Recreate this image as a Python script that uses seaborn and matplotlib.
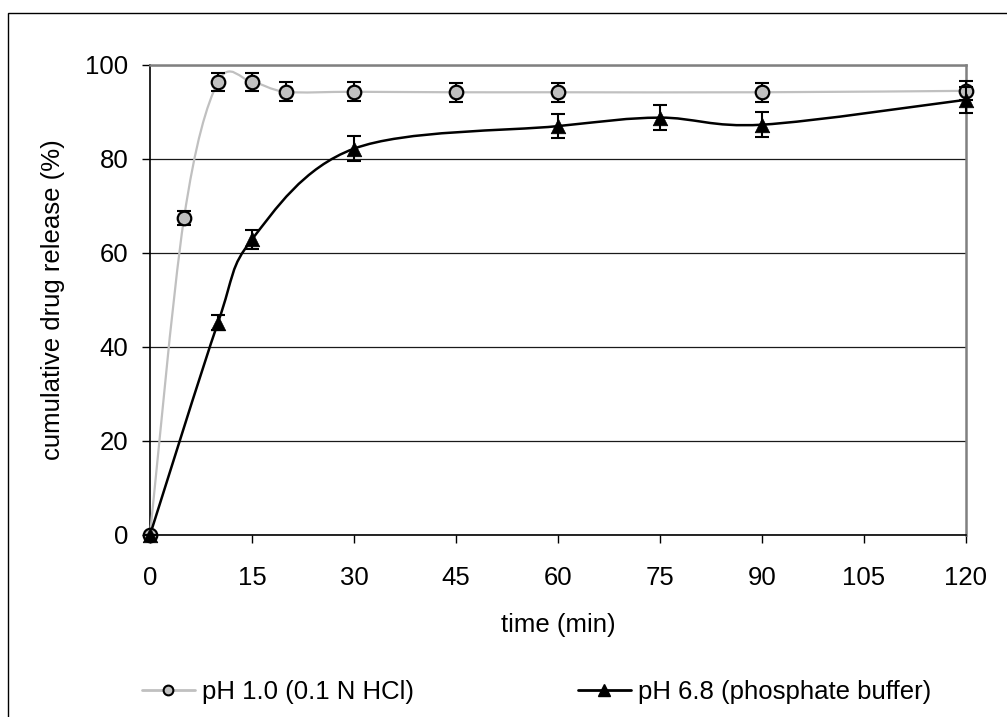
import numpy as np
import pandas as pd
import seaborn as sns
import matplotlib
matplotlib.use("Agg")
import matplotlib.pyplot as plt
from matplotlib.path import Path
from matplotlib.patches import PathPatch, Rectangle
from matplotlib.lines import Line2D

# ---- data ----
time_ph1 = [0, 5, 10, 15, 20, 30, 45, 60, 90, 120]
release_ph1 = [0, 67.4, 96.4, 96.4, 94.3, 94.3, 94.2, 94.2, 94.2, 94.5]
err_ph1 = [0, 1.5, 2.0, 2.0, 2.0, 2.0, 2.0, 2.0, 2.0, 2.0]

time_ph68 = [0, 10, 15, 30, 60, 75, 90, 120]
release_ph68 = [0, 45.2, 62.9, 82.2, 87.0, 88.8, 87.3, 92.6]
err_ph68 = [0, 1.6, 2.0, 2.6, 2.6, 2.7, 2.6, 2.8]

label_ph1 = "pH 1.0 (0.1 N HCl)"
label_ph68 = "pH 6.8 (phosphate buffer)"
xticks = [0, 15, 30, 45, 60, 75, 90, 105, 120]
yticks = [0, 20, 40, 60, 80, 100]

sns.set_style("white")
plt.rcParams["font.family"] = ["Liberation Sans", "DejaVu Sans"]
for k in ["text.color", "axes.labelcolor", "xtick.color", "ytick.color"]:
    plt.rcParams[k] = "black"
FS = 18.5

fig = plt.figure(figsize=(10.07, 7.17), dpi=100)
ax = fig.add_axes([150/1007, 1-535/717, (966-150)/1007, (535-65)/717])


def smooth_path(xs, ys):
    """Excel-style smoothed line rendered as cubic Bezier segments."""
    pts = np.column_stack([xs, ys]).astype(float)
    n = len(pts)
    verts = [pts[0]]
    codes = [Path.MOVETO]
    for i in range(n - 1):
        p_prev = pts[i - 1] if i > 0 else pts[i]
        p0 = pts[i]
        p1 = pts[i + 1]
        p_next = pts[i + 2] if i + 2 < n else pts[i + 1]
        c1 = p0 + (p1 - p_prev) / 6.0
        c2 = p1 - (p_next - p0) / 6.0
        verts += [c1, c2, p1]
        codes += [Path.CURVE4] * 3
    return Path(verts, codes)


grey = "#C0C0C0"
ax.add_patch(PathPatch(smooth_path(time_ph1, release_ph1), facecolor="none",
                       edgecolor=grey, lw=1.6, transform=ax.transData, zorder=3,
                       clip_on=False))
ax.add_patch(PathPatch(smooth_path(time_ph68, release_ph68), facecolor="none",
                       edgecolor="black", lw=1.8, transform=ax.transData, zorder=4,
                       clip_on=False))

df1 = pd.DataFrame({"t": time_ph1, "r": release_ph1})
df2 = pd.DataFrame({"t": time_ph68, "r": release_ph68})

eb1 = ax.errorbar(time_ph1, release_ph1, yerr=err_ph1, fmt="none", ecolor="black",
                  elinewidth=1.5, capsize=4.7, capthick=1.5, zorder=5)
sns.scatterplot(data=df1, x="t", y="r", ax=ax, marker="o", s=95,
                color=grey, edgecolor="black", linewidth=1.6, zorder=6,
                legend=False, clip_on=False)
eb2 = ax.errorbar(time_ph68, release_ph68, yerr=err_ph68, fmt="none", ecolor="black",
                  elinewidth=1.5, capsize=4.7, capthick=1.5, zorder=7)
sns.scatterplot(data=df2, x="t", y="r", ax=ax, marker="^", s=110,
                color="black", edgecolor="black", linewidth=0.5, zorder=8,
                legend=False, clip_on=False)
for eb in (eb1, eb2):
    for art in eb.lines[1] + eb.lines[2]:
        art.set_clip_on(False)

ax.set_xlim(0, 120)
ax.set_ylim(0, 100)
ax.set_xticks(xticks)
ax.set_yticks(yticks)
ax.set_xticklabels([str(v) for v in xticks], fontsize=FS)
ax.set_yticklabels([str(v) for v in yticks], fontsize=FS)
ax.tick_params(axis="x", direction="out", length=6, width=1, color="black",
               pad=16, bottom=True)
ax.tick_params(axis="y", direction="out", length=5.5, width=1, color="black",
               pad=10, left=True)

ax.yaxis.grid(True, color="#1a1a1a", lw=0.9)
ax.xaxis.grid(False)
ax.set_axisbelow(True)
for side in ["top", "right"]:
    ax.spines[side].set_color("#808080")
    ax.spines[side].set_linewidth(1.8)
for side in ["left", "bottom"]:
    ax.spines[side].set_color("black")
    ax.spines[side].set_linewidth(1.2)
    ax.spines[side].set_zorder(2.5)

ax.set_xlabel("time (min)", fontsize=FS)
ax.set_ylabel("cumulative drug release (%)", fontsize=FS)
ax.xaxis.set_label_coords(0.5, -0.166)
ax.yaxis.set_label_coords(-0.104, 0.5)

# legend (two entries placed below the chart)
h1 = Line2D([], [], color=grey, lw=2, marker="o", markersize=7,
            markerfacecolor=grey, markeredgecolor="black", markeredgewidth=1.5)
h2 = Line2D([], [], color="black", lw=2, marker="^", markersize=8,
            markerfacecolor="black", markeredgecolor="black")
for h, lab, xpos in [(h1, label_ph1, 142), (h2, label_ph68, 578)]:
    fig.legend([h], [lab], loc="center left", bbox_to_anchor=(xpos/1007, 1-692/717),
               frameon=False, fontsize=FS, borderpad=0, borderaxespad=0,
               handlelength=2.05, handletextpad=0.3)

fig.add_artist(Rectangle((8/1007, -1), 2, 1 - 13/717 + 1, transform=fig.transFigure,
                         fill=False, edgecolor="black", lw=1.0))

fig.savefig("out.png", dpi=100)
